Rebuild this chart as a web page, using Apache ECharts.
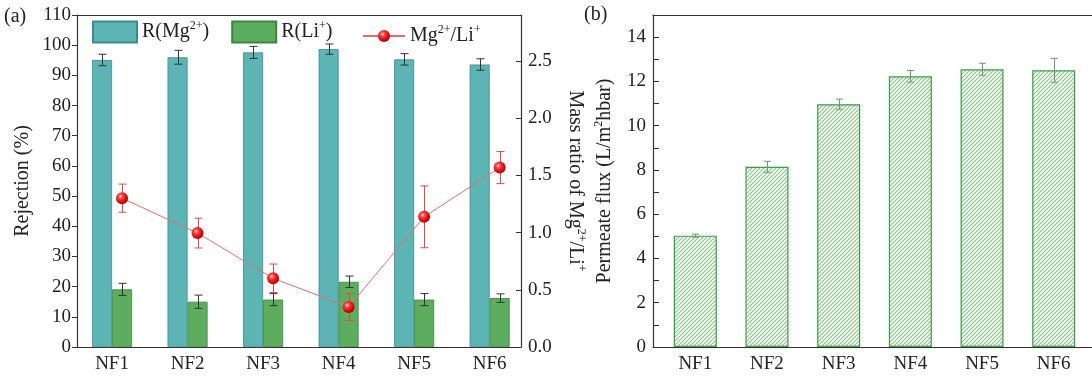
<!DOCTYPE html>
<html>
<head>
<meta charset="utf-8">
<script src="https://cdn.jsdelivr.net/npm/echarts@6/dist/echarts.min.js"></script>
<style>html,body{margin:0;padding:0;background:#fff}#c{width:1092px;height:379px}</style>
</head>
<body>
<div id="c"></div>
<script>
// ---- data ----
const categories = ['NF1', 'NF2', 'NF3', 'NF4', 'NF5', 'NF6'];
const rMg = [95.1, 96.0, 97.6, 98.7, 95.3, 93.6];
const rMgErr = [1.9, 2.3, 2.0, 1.7, 1.9, 1.9];
const rLi = [19.1, 15.0, 15.7, 21.6, 15.7, 16.2];
const rLiErr = [2.0, 2.2, 2.0, 1.9, 2.0, 1.4];
const ratio = [1.30, 0.995, 0.60, 0.35, 1.137, 1.567];
const ratioErr = [0.123, 0.13, 0.125, 0.12, 0.27, 0.14];
const flux = [5.03, 8.14, 10.97, 12.23, 12.55, 12.5];
const fluxErr = [0.07, 0.25, 0.23, 0.26, 0.27, 0.54];
const leftTicks = [0, 10, 20, 30, 40, 50, 60, 70, 80, 90, 100, 110];
const rightTicks = [0, 0.5, 1.0, 1.5, 2.0, 2.5];
const fluxTicks = [0, 2, 4, 6, 8, 10, 12, 14];

// ---- style ----
const FONT = 'Liberation Serif';
const AX = '#333';
const TXT = '#222';
const FS = 20, TFS = 19;
const barW = 20;
const xMinA = 0.536, xMaxA = 6.415;
const pxPerUnitA = (1092 - 571 - 77) / (xMaxA - xMinA);
const shift = (barW / 2) / pxPerUnitA;
const pos = categories.map((c, i) => i + 1);

function pair(vals, errs) { return vals.map((v, i) => [pos[i], v, errs ? errs[i] : 0]); }

function errSeries(name, data, xi, yi, offsetPx, color, capW, z) {
  return {
    type: 'custom', name: name, xAxisIndex: xi, yAxisIndex: yi, z: z,
    data: data, silent: true,
    renderItem: function (params, api) {
      const x = api.value(0), y = api.value(1), e = api.value(2);
      const t = api.coord([x, y + e]), b = api.coord([x, y - e]);
      const cx = Math.round(t[0] + offsetPx) + 0.5;
      const st = { stroke: color, lineWidth: 1 };
      return { type: 'group', children: [
        { type: 'line', shape: { x1: cx, y1: t[1], x2: cx, y2: b[1] }, style: st },
        { type: 'line', shape: { x1: cx - capW / 2, y1: t[1], x2: cx + capW / 2, y2: t[1] }, style: st },
        { type: 'line', shape: { x1: cx - capW / 2, y1: b[1], x2: cx + capW / 2, y2: b[1] }, style: st }
      ]};
    }
  };
}

// hatch pattern
const P = 4;
const pc = document.createElement('canvas');
pc.width = P; pc.height = P;
const g = pc.getContext('2d');
g.fillStyle = '#ffffff'; g.fillRect(0, 0, P, P);
g.strokeStyle = '#86c488'; g.lineWidth = 1.1;
g.beginPath(); g.moveTo(-1, P + 1); g.lineTo(P + 1, -1); g.stroke();
g.beginPath(); g.moveTo(-1, 1); g.lineTo(1, -1); g.stroke();
g.beginPath(); g.moveTo(P - 1, P + 1); g.lineTo(P + 1, P - 1); g.stroke();

const richBase = {
  t: { fontFamily: FONT, fontSize: FS, color: TXT, lineHeight: 24 },
  s: { fontFamily: FONT, fontSize: 12, color: TXT, verticalAlign: 'top', lineHeight: 13 }
};
function sup(name) {
  if (name === 'R(Mg2+)') return '{t|R(Mg}{s|2+}{t|)}';
  if (name === 'R(Li+)') return '{t|R(Li}{s|+}{t|)}';
  if (name === 'Mg2+/Li+') return '{t|Mg}{s|2+}{t|/Li}{s|+}';
  return name;
}

const sphere = { type: 'radial', x: 0.38, y: 0.35, r: 0.7,
  colorStops: [{ offset: 0, color: '#ffffff' }, { offset: 0.22, color: '#ff5050' }, { offset: 0.6, color: '#e81010' }, { offset: 1, color: '#a00000' }] };

function fmtTicks(list, dec) {
  return function (v) {
    for (const t of list) if (Math.abs(t - v) < 1e-6) return dec ? t.toFixed(dec) : String(t);
    return '';
  };
}

const chart = echarts.init(document.getElementById('c'), null, { renderer: 'canvas' });
chart.setOption({
  animation: false,
  backgroundColor: '#fff',
  textStyle: { fontFamily: FONT },
  grid: [
    { left: 77, right: 571, top: 15, bottom: 32 },
    { left: 653, right: 0, top: 15, bottom: 32 }
  ],
  graphic: [
    { type: 'text', left: 4, top: 7, style: { text: '(a)', font: FS + 'px ' + FONT, fill: TXT } },
    { type: 'text', left: 584, top: 5, style: { text: '(b)', font: FS + 'px ' + FONT, fill: TXT } }
  ],
  legend: [
    { data: ['R(Mg2+)', 'R(Li+)'], left: 92, top: 20, padding: 0, itemWidth: 44, itemHeight: 21, itemGap: 22,
      icon: 'rect', formatter: sup, textStyle: { rich: richBase, fontFamily: FONT, fontSize: FS } },
    { data: ['Mg2+/Li+'], left: 362, top: 24, padding: 0, itemWidth: 42, itemHeight: 15, itemGap: 0,
      formatter: sup, textStyle: { rich: richBase, fontFamily: FONT, fontSize: FS } }
  ],
  xAxis: [
    { gridIndex: 0, type: 'value', min: xMinA, max: xMaxA, position: 'bottom',
      axisLine: { show: true, lineStyle: { color: AX, width: 1.2 } }, axisTick: { show: false }, splitLine: { show: false },
      axisLabel: { customValues: pos, formatter: v => categories[Math.round(v) - 1] || '', fontFamily: FONT, fontSize: TFS, color: TXT, margin: 8 } },
    { gridIndex: 0, type: 'value', min: 0, max: 1, position: 'top',
      axisLine: { show: true, onZero: false, lineStyle: { color: AX, width: 1.2 } }, axisTick: { show: false }, axisLabel: { show: false }, splitLine: { show: false } },
    { gridIndex: 0, type: 'value', min: xMinA - shift, max: xMaxA - shift, show: false, splitLine: { show: false } },
    { gridIndex: 1, type: 'value', min: 0.41, max: 6.534, position: 'bottom',
      axisLine: { show: true, lineStyle: { color: AX, width: 1.2 } }, axisTick: { show: false }, splitLine: { show: false },
      axisLabel: { customValues: pos, formatter: v => categories[Math.round(v) - 1] || '', fontFamily: FONT, fontSize: TFS, color: TXT, margin: 8 } },
    { gridIndex: 1, type: 'value', min: 0, max: 1, position: 'top',
      axisLine: { show: true, onZero: false, lineStyle: { color: AX, width: 1.2 } }, axisTick: { show: false }, axisLabel: { show: false }, splitLine: { show: false } }
  ],
  yAxis: [
    { gridIndex: 0, type: 'value', min: 0, max: 110, interval: 10, position: 'left',
      name: 'Rejection (%)', nameLocation: 'middle', nameGap: 44, nameRotate: 90,
      nameTextStyle: { fontFamily: FONT, fontSize: FS, color: TXT },
      axisLine: { show: true, lineStyle: { color: AX, width: 1.2 } },
      axisTick: { show: true, inside: false, length: 5, lineStyle: { color: AX } },
      axisLabel: { fontFamily: FONT, fontSize: TFS, color: TXT, margin: 6, formatter: fmtTicks(leftTicks, 0) },
      splitLine: { show: false } },
    { gridIndex: 0, type: 'value', min: 0, max: 2.9, interval: 0.5, position: 'right',
      name: '{t|Mass ratio of Mg}{s|2+}{t|/Li}{s|+}', nameLocation: 'middle', nameGap: 42, nameRotate: -90,
      nameTextStyle: { rich: richBase },
      axisLine: { show: true, lineStyle: { color: AX, width: 1.2 } },
      axisTick: { show: true, inside: true, length: 5, lineStyle: { color: AX } },
      axisLabel: { fontFamily: FONT, fontSize: TFS, color: TXT, margin: 7, formatter: fmtTicks(rightTicks, 1) },
      splitLine: { show: false } },
    { gridIndex: 1, type: 'value', min: 0, max: 15, interval: 1, position: 'left',
      name: '{t|Permeate flux (L/m}{s|2}{t|hbar)}', nameLocation: 'middle', nameGap: 36, nameRotate: 90,
      nameTextStyle: { rich: richBase },
      axisLine: { show: true, lineStyle: { color: AX, width: 1.2 } },
      axisTick: { show: true, inside: true, length: 6, interval: function (i, v) { return fluxTicks.indexOf(Number(v)) >= 0; }, lineStyle: { color: AX } },
      axisLabel: { fontFamily: FONT, fontSize: TFS, color: TXT, margin: 7, formatter: fmtTicks(fluxTicks, 0) },
      splitLine: { show: false } }
  ],
  series: [
    { type: 'bar', name: 'R(Mg2+)', xAxisIndex: 0, yAxisIndex: 0, barWidth: barW, barGap: '0%', z: 2,
      itemStyle: { color: '#5db4b5', borderColor: '#3d8b8c', borderWidth: 0.8 }, data: pair(rMg) },
    { type: 'bar', name: 'R(Li+)', xAxisIndex: 0, yAxisIndex: 0, barWidth: barW, barGap: '0%', z: 2,
      itemStyle: { color: '#5cae5e', borderColor: '#3b853d', borderWidth: 0.8 }, data: pair(rLi) },
    errSeries('eMg', pair(rMg, rMgErr), 0, 0, -barW / 2, '#333', 8, 3),
    errSeries('eLi', pair(rLi, rLiErr), 0, 0, barW / 2, '#333', 8, 3),
    errSeries('eRatio', pair(ratio, ratioErr), 2, 1, 0, '#e04848', 8, 4),
    { type: 'line', name: 'Mg2+/Li+', xAxisIndex: 2, yAxisIndex: 1, z: 5,
      symbol: 'circle', symbolSize: 12,
      lineStyle: { color: '#e07070', width: 1 },
      itemStyle: { color: sphere, borderWidth: 0 },
      data: pair(ratio) },
    { type: 'bar', name: 'flux', xAxisIndex: 3, yAxisIndex: 2, barWidth: 43, z: 2,
      itemStyle: { color: { image: pc, repeat: 'repeat' }, borderColor: '#3f9a47', borderWidth: 1.2 },
      data: pair(flux) },
    errSeries('eFlux', pair(flux, fluxErr), 3, 2, 0, '#6f9a70', 7, 3)
  ]
});
</script>
</body>
</html>
